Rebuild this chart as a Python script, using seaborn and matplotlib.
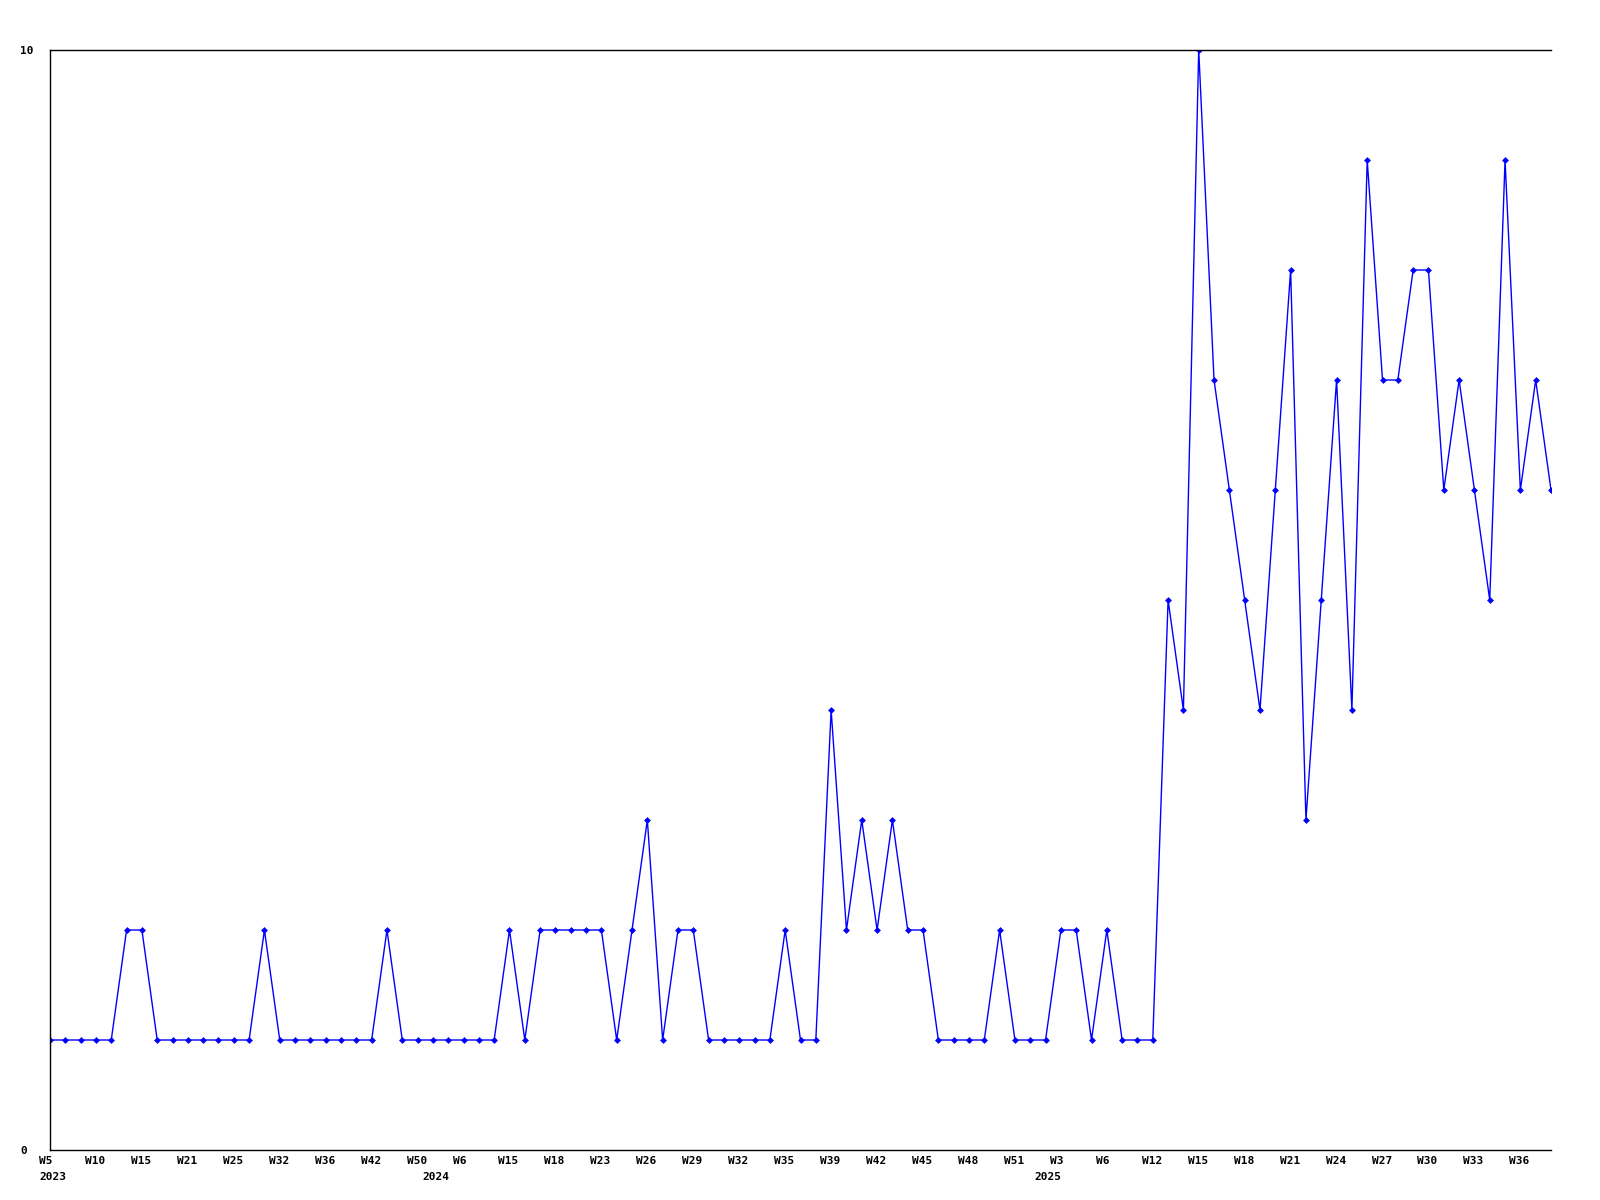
import matplotlib
matplotlib.use("Agg")
import matplotlib.pyplot as plt
import matplotlib.transforms as mtransforms
import seaborn as sns
import pandas as pd

# ---- data ----
values = [1, 1, 1, 1, 1, 2, 2, 1, 1, 1,
          1, 1, 1, 1, 2, 1, 1, 1, 1, 1,
          1, 1, 2, 1, 1, 1, 1, 1, 1, 1,
          2, 1, 2, 2, 2, 2, 2, 1, 2, 3,
          1, 2, 2, 1, 1, 1, 1, 1, 2, 1,
          1, 4, 2, 3, 2, 3, 2, 2, 1, 1,
          1, 1, 2, 1, 1, 1, 2, 2, 1, 2,
          1, 1, 1, 5, 4, 10, 7, 6, 5, 4,
          6, 8, 3, 5, 7, 4, 9, 7, 7, 8,
          8, 6, 7, 6, 5, 9, 6, 7, 6]

tick_labels = ["W5", "W10", "W15", "W21", "W25", "W32", "W36", "W42", "W50",
               "W6", "W15", "W18", "W23", "W26", "W29", "W32", "W35", "W39",
               "W42", "W45", "W48", "W51", "W3", "W6", "W12", "W15", "W18",
               "W21", "W24", "W27", "W30", "W33", "W36"]
tick_step = 3

year_labels = ["2023", "2024", "2025"]
year_positions = [0, 25, 65]

y_ticks = [0, 10]

df = pd.DataFrame({"idx": list(range(len(values))), "value": values})

sns.set_style("white")
plt.rcParams["font.family"] = ["DejaVu Sans Mono", "DejaVu Sans"]
plt.rcParams["text.color"] = "black"
plt.rcParams["xtick.color"] = "black"
plt.rcParams["ytick.color"] = "black"
plt.rcParams["xtick.labelcolor"] = "black"
plt.rcParams["ytick.labelcolor"] = "black"

fig = plt.figure(figsize=(16, 12), dpi=100)
ax = fig.add_axes([50 / 1600, 1 - 1150 / 1200, 1501 / 1600, 1100 / 1200])

sns.lineplot(data=df, x="idx", y="value", ax=ax, color="#0000ff",
             linewidth=1.0, marker="D", markersize=3.5,
             markeredgewidth=0, markerfacecolor="#0000ff")

ax.set_xlim(0, len(values) - 1)
ax.set_ylim(0, 10)
ax.set_xlabel("")
ax.set_ylabel("")

for side in ["left", "bottom", "top"]:
    ax.spines[side].set_visible(True)
    ax.spines[side].set_color("black")
    ax.spines[side].set_linewidth(1.0)
ax.spines["right"].set_visible(False)

tick_pos = list(range(0, len(values), tick_step))[:len(tick_labels)]
ax.set_xticks(tick_pos)
ax.set_xticklabels(tick_labels, fontsize=8, fontweight="bold", color="black")
ax.set_yticks(y_ticks)
ax.set_yticklabels([str(v) for v in y_ticks], fontsize=8, fontweight="bold", color="black")
ax.tick_params(axis="x", length=0, pad=4)
ax.tick_params(axis="y", length=0, pad=21.6)

offset = mtransforms.ScaledTranslation(-11 / 100, 0, fig.dpi_scale_trans)
for lbl in ax.get_xticklabels():
    lbl.set_ha("left")
    lbl.set_transform(lbl.get_transform() + offset)
for lbl in ax.get_yticklabels():
    lbl.set_ha("left")

for yl, yp in zip(year_labels, year_positions):
    ax.annotate(yl, xy=(yp, 0), xycoords=("data", "axes fraction"),
                xytext=(-11 * 0.72, -27 * 0.72), textcoords="offset points",
                ha="left", va="center", fontsize=8, fontweight="bold",
                color="black", annotation_clip=False)

ax.grid(False)
fig.savefig("out.png", dpi=100)
